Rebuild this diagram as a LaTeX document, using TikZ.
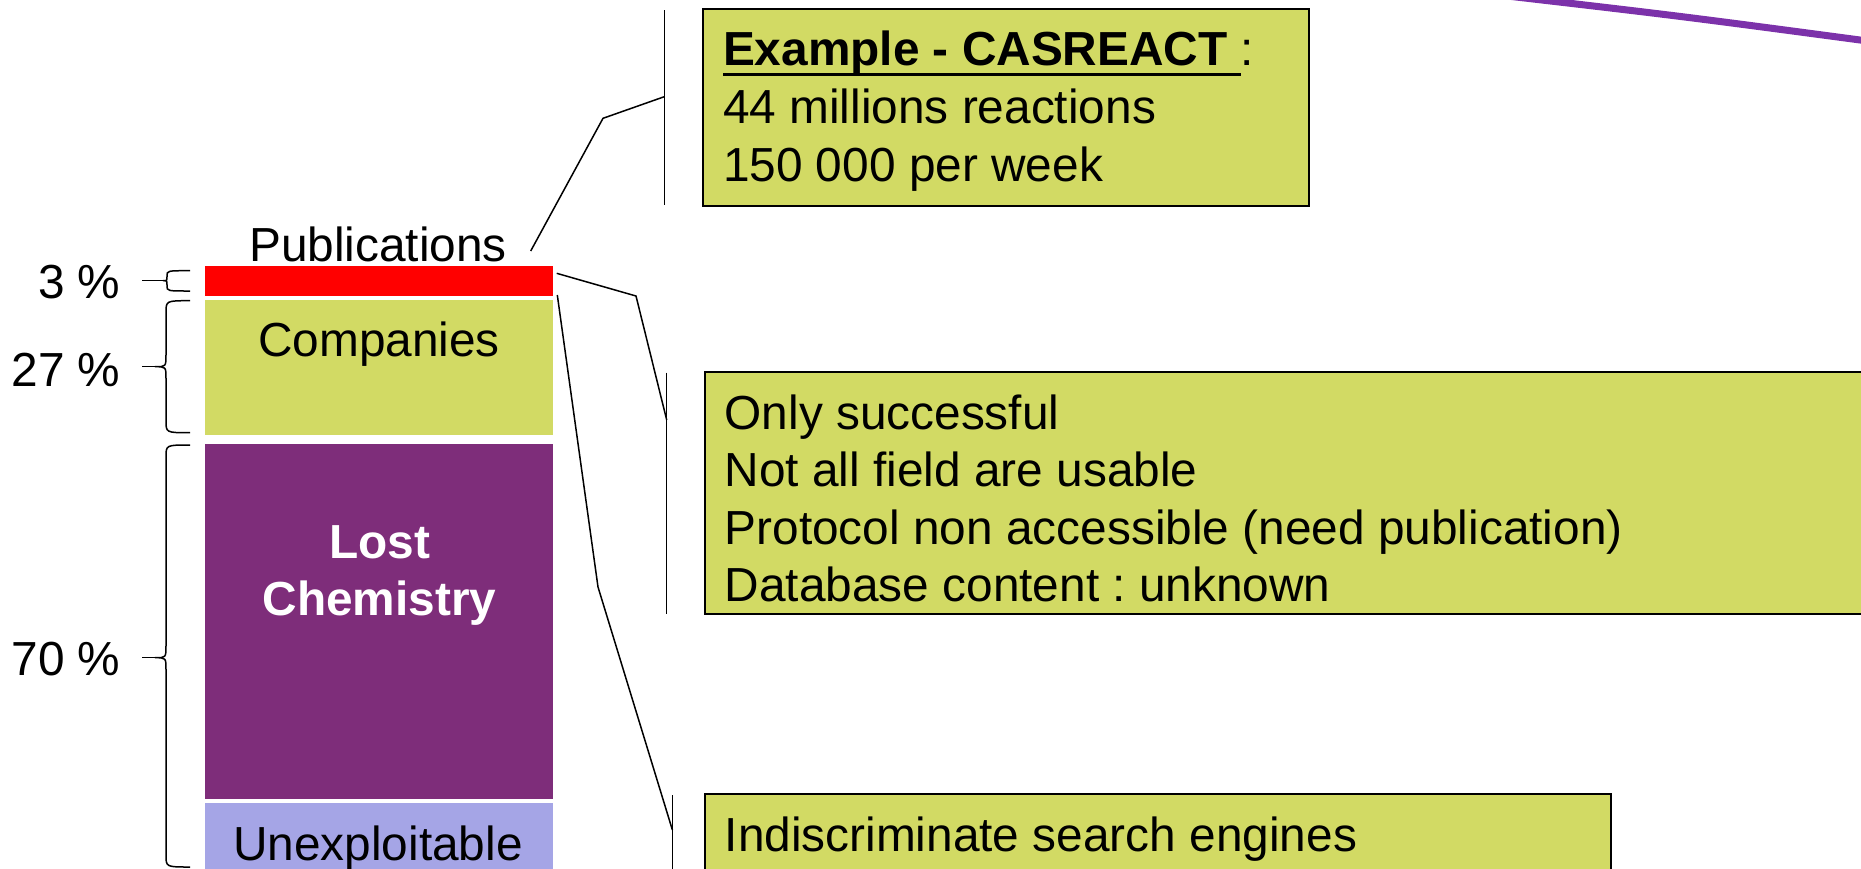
\documentclass[tikz,border=0pt]{standalone}
\usepackage{fontspec}
\setmainfont{Liberation Sans}
\frenchspacing
\definecolor{boxgreen}{RGB}{210,218,100}
\definecolor{lostpurple}{RGB}{126,45,122}
\definecolor{lavender}{RGB}{165,165,230}
\definecolor{linepurple}{RGB}{124,50,170}
\newcommand\myul[1]{\leavevmode\setbox0\hbox{#1}\rlap{\rule[-5.5pt]{\wd0}{1.5pt}}\box0}
\tikzset{
  txt/.style={font=\fontsize{23.9}{28}\selectfont, inner sep=0pt, outer sep=0pt},
  bar/.style={draw=none, inner sep=0pt, outer sep=0pt, anchor=north west, minimum width=174pt},
  callbox/.style={draw=black, line width=1pt, fill=boxgreen, inner sep=0pt, outer sep=0pt, anchor=north west},
  conn/.style={draw=black, line width=0.75pt},
  accent/.style={draw=black, line width=0.75pt},
  brc/.style={draw=black, line width=0.75pt},
}
\begin{document}
\begin{tikzpicture}[x=0.5pt,y=-0.5pt]
\useasboundingbox (0,0) rectangle (1861,868);
\clip (0,0) rectangle (1861,868);

% stacked bar
\node[bar, fill=red, minimum height=15pt] (pubbar) at (205,266) {};
\node[bar, fill=boxgreen, minimum height=67.35pt] (compbar) at (205,300) {};
\node[bar, fill=lostpurple, minimum height=177.65pt] (lostbar) at (205,444) {};
\node[bar, fill=lavender, minimum height=50pt] (unexbar) at (205,802.7) {};

\node[txt, anchor=base] (pubtxt) at (378,261.7) {Publications};
\node[txt, anchor=base] (comptxt) at (379,356.7) {Companies};
\node[txt, anchor=base, text=white, font=\fontsize{23.9}{28}\selectfont\bfseries] (losttxt1) at (379.5,558.3) {Lost};
\node[txt, anchor=base, text=white, font=\fontsize{23.9}{28}\selectfont\bfseries] (losttxt2) at (379.5,615) {Chemistry};
\node[txt, anchor=base] (unextxt) at (378,860) {Unexploitable};

% percentages
\node[txt, anchor=base east] (p3) at (120.5,298.3) {3 \%};
\node[txt, anchor=base east] (p27) at (120.5,386.7) {27 \%};
\node[txt, anchor=base east] (p70) at (120.5,675) {70 \%};

% braces
\draw[brc] (190,270.7) .. controls (167,270.7) .. (167,275.7) -- (167,276.7)
  .. controls (167,280.7) .. (163,280.7) .. controls (167,280.7) .. (167,284.7)
  -- (167,286) .. controls (167,291) .. (190,291);
\draw[brc] (163,280.7) -- (141.6,280.7);

\draw[brc] (190,300.7) .. controls (166,300.7) .. (166,312.7) -- (166,354.7)
  .. controls (166,366.7) .. (155,366.7) .. controls (166,366.7) .. (166,378.7)
  -- (166,420.7) .. controls (166,432.7) .. (190,432.7);
\draw[brc] (155,366.7) -- (141.6,366.7);

\draw[brc] (190,445) .. controls (166,445) .. (166,457) -- (166,645.7)
  .. controls (166,657.7) .. (155,657.7) .. controls (166,657.7) .. (166,669.7)
  -- (166,855) .. controls (166,867) .. (190,867);
\draw[brc] (155,657.7) -- (142,657.7);

% callout boxes
\node[callbox, minimum width=303pt, minimum height=98.35pt] (box1) at (703.3,9.3) {};
\node[callbox, minimum width=600pt, minimum height=121pt] (box2) at (704.5,372.3) {};
\node[callbox, minimum width=453.25pt, minimum height=50pt] (box3) at (704.5,794.3) {};

\node[txt, anchor=base west] (b1l1) at (723,65) {\myul{\textbf{Example - CASREACT }}:};
\node[txt, anchor=base west] (b1l2) at (723,123) {44 millions reactions};
\node[txt, anchor=base west] (b1l3) at (723,181) {150 000 per week};

\node[txt, anchor=base west] (b2l1) at (724.7,429.3) {Only successful};
\node[txt, anchor=base west] (b2l2) at (724.7,486.7) {Not all field are usable};
\node[txt, anchor=base west] (b2l3) at (724.7,544) {Protocol non accessible (need publication)};
\node[txt, anchor=base west] (b2l4) at (724.7,601.7) {Database content : unknown};

\node[txt, anchor=base west] (b3l1) at (724.7,851.7) {Indiscriminate search engines};

% accent bars
\coordinate (a1t) at (664.3,10);
\coordinate (a1b) at (664.3,205);
\coordinate (a2t) at (666.7,372.7);
\coordinate (a2b) at (666.7,614.3);
\coordinate (a3t) at (672.4,795);
\coordinate (a3b) at (672.4,880);
\draw[accent] (a1t) -- (a1b);
\draw[accent] (a2t) -- (a2b);
\draw[accent] (a3t) -- (a3b);

% callout leaders
\coordinate (c1s) at (530.7,251);
\coordinate (c1m) at (603,118.3);
\coordinate (c1e) at (664.3,96.7);
\draw[conn] (c1s) -- (c1m) -- (c1e);

\coordinate (c2s) at (556.7,273.3);
\coordinate (c2m) at (636,296);
\coordinate (c2e) at (666.7,420);
\draw[conn] (c2s) -- (c2m) -- (c2e);

\coordinate (c3s) at (557.3,295);
\coordinate (c3m) at (598,587);
\coordinate (c3e) at (672.4,830);
\draw[conn] (c3s) -- (c3m) -- (c3e);

% purple line at top right
\coordinate (pl1) at (1490,-6);
\coordinate (pl2) at (1875,42);
\draw[draw=linepurple, line width=3.5pt] (pl1) .. controls (1680,16) .. (pl2);
\end{tikzpicture}
\end{document}
